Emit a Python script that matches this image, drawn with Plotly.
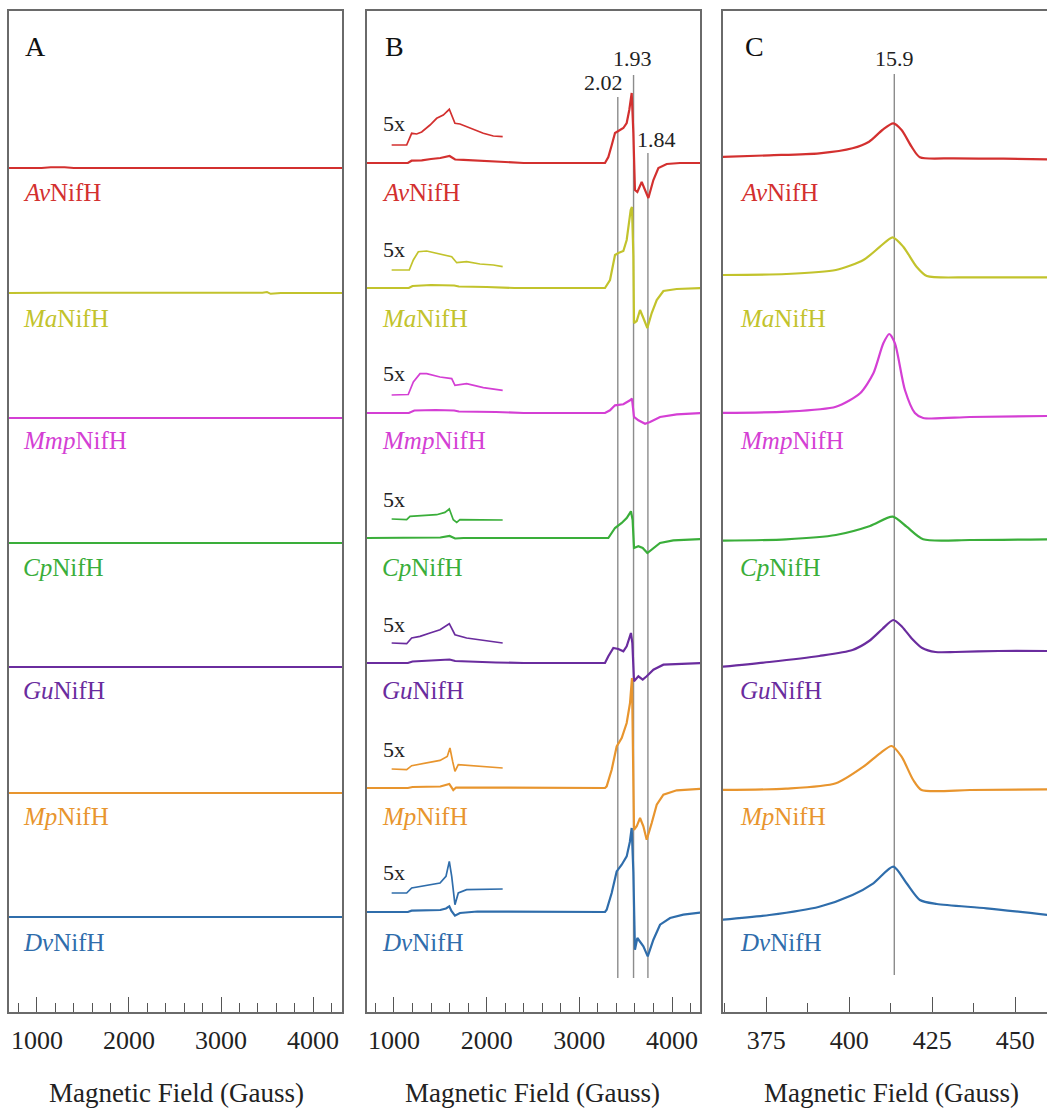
import plotly.graph_objects as go

# ---------------- data ----------------
NAMES = ["Av", "Ma", "Mmp", "Cp", "Gu", "Mp", "Dv"]
COLORS = ["#d3302f", "#c2c32c", "#d43fd4", "#3aae3a", "#6a2c9e", "#e8952e", "#2f6dab"]

# Panel A (flat spectra), field in Gauss, signal in arbitrary units
A_AV_X = [690, 1050, 1150, 1300, 1400, 2500, 4330]
A_AV_Y = [0, 0, 0.8, 0.8, 0, 0, 0]
A_MA_X = [690, 1200, 3450, 3500, 3540, 3650, 4330]
A_MA_Y = [0, 0.3, 0.3, 1.0, -0.8, 0, 0]
A_MMP_X = [690, 1500, 2500, 4330]
A_MMP_Y = [0, 0.3, 0, 0]
A_CP_X = [690, 1500, 2500, 4330]
A_CP_Y = [0, 0.3, 0, 0]
A_GU_X = [690, 1500, 2500, 4330]
A_GU_Y = [0, 0.3, 0, 0]
A_MP_X = [690, 1500, 2500, 4330]
A_MP_Y = [0, 0.3, 0, 0]
A_DV_X = [690, 1500, 2500, 4330]
A_DV_Y = [0, 0.3, 0, 0]

# Panel B main spectra
B_AV_X = [700, 1150, 1190, 1300, 1400, 1500, 1600, 1660, 1750, 1900, 2100, 2400, 3277, 3313, 3350, 3385, 3421, 3475, 3511, 3539, 3565, 3583, 3600, 3626, 3673, 3709, 3745, 3799, 3853, 3943, 4086, 4320]
B_AV_Y = [0, 0, 2.3, 2.6, 4, 5, 7, 3.5, 3.2, 2.5, 1.5, 0, 0, 6, 18, 30, 32, 35, 40, 53, 70, 30, -27, -29, -19, -27, -35, -17, -5, -1, 0, 0]
B_MA_X = [700, 1160, 1200, 1400, 1650, 1700, 2000, 2300, 3277, 3331, 3385, 3421, 3475, 3511, 3554, 3568, 3583, 3590, 3619, 3655, 3691, 3734, 3781, 3835, 3907, 4051, 4320]
B_MA_Y = [0, 0, 2, 3, 2.5, 1.5, 1, 0, 0, 8, 33, 35, 37, 48, 78, 81, 32, -35, -33, -22, -30, -40, -25, -12, -3, -1, 0]
B_MMP_X = [700, 1160, 1220, 1450, 1650, 1700, 2100, 2400, 3277, 3331, 3385, 3475, 3547, 3568, 3590, 3637, 3709, 3763, 3871, 4051, 4320]
B_MMP_Y = [0, 0, 2.5, 3, 2.5, 1.5, 1, 0, 0, 2.7, 7.7, 8.7, 12.7, 14.3, -4, -7.3, -10.7, -9, -4, -1.3, 0]
B_CP_X = [700, 1500, 1600, 1660, 1750, 3313, 3385, 3457, 3511, 3557, 3575, 3590, 3637, 3684, 3734, 3799, 3871, 4014, 4320]
B_CP_Y = [0, 0.5, 2, -0.5, 0, 0, 10, 15, 20, 26.7, 18, -10, -8.3, -10, -15, -10, -5, -2.3, -1]
B_GU_X = [700, 1150, 1200, 1400, 1600, 1660, 1800, 2100, 2400, 3277, 3313, 3367, 3421, 3475, 3511, 3557, 3572, 3590, 3637, 3684, 3727, 3799, 3907, 4320]
B_GU_Y = [0, 0, 1.5, 2.2, 3.5, 2, 1.3, 0.5, 0, 0, 6.7, 15, 14, 11.7, 16.7, 30, 20, -18.3, -13.3, -16.7, -13.3, -6.7, -1.7, 0]
B_MP_X = [700, 1150, 1200, 1500, 1597, 1640, 1670, 1720, 2100, 3277, 3295, 3349, 3403, 3457, 3511, 3547, 3568, 3580, 3590, 3619, 3655, 3691, 3727, 3781, 3835, 3907, 4051, 4320]
B_MP_Y = [0, 0, 1, 1.5, 4, -2, 0.5, 0.5, 0, 0, 1.6, 18.3, 41.6, 50, 65, 85, 110, 40, -41.7, -38.3, -30, -38.3, -51.7, -35, -16.7, -6.7, -2.3, -0.7]
B_DV_X = [700, 1150, 1190, 1500, 1561, 1597, 1620, 1658, 1712, 1900, 3277, 3295, 3349, 3403, 3457, 3511, 3545, 3565, 3583, 3600, 3626, 3655, 3691, 3738, 3799, 3871, 3979, 4122, 4320]
B_DV_Y = [0, 0, 1.3, 2, 3.5, 5.6, 1, -3.7, -1, 0.5, 0, 2.3, 19, 40.6, 47.3, 55.6, 70, 84, 40, -37.7, -26, -29.4, -34.4, -44.4, -27.7, -12.7, -6, -2.7, -0.3]

# Panel B "5x" insets (low-field region magnified five times)
I_AV_X = [975, 1137, 1191, 1245, 1299, 1389, 1461, 1532, 1597, 1658, 1712, 1820, 1964, 2072, 2173]
I_AV_Y = [0, 0, 11.7, 11, 13, 20, 26.7, 30, 35.7, 21.7, 21, 16.7, 11.7, 9, 8.3]
I_MA_X = [975, 1165, 1209, 1263, 1353, 1461, 1569, 1623, 1677, 1784, 1928, 2072, 2173]
I_MA_Y = [0, 0, 10, 18.3, 19, 16.7, 15, 13.3, 7.3, 8.3, 6, 5, 3.3]
I_MMP_X = [975, 1154, 1209, 1281, 1353, 1497, 1623, 1658, 1784, 1964, 2173]
I_MMP_Y = [0, 0.5, 13, 21.4, 21.4, 18, 16.4, 9.7, 11.4, 7.4, 4.7]
I_CP_X = [975, 1137, 1173, 1353, 1461, 1550, 1597, 1640, 1677, 1712, 1928, 2173]
I_CP_Y = [1, 0.3, 3.6, 4.3, 5.3, 7.6, 11, 0.3, -2.4, 0.3, 0, 0]
I_GU_X = [975, 1137, 1191, 1281, 1389, 1497, 1597, 1658, 1784, 1964, 2173]
I_GU_Y = [2, 1.3, 7, 8.6, 12, 15.3, 21.3, 10.3, 7, 4.6, 2]
I_MP_X = [975, 1137, 1191, 1353, 1497, 1575, 1604, 1633, 1658, 1694, 1820, 2000, 2173]
I_MP_Y = [1, 0.3, 4.3, 7, 9.6, 13.6, 22, 8.6, -1.4, 5.3, 4.3, 3, 2]
I_DV_X = [975, 1137, 1191, 1353, 1497, 1561, 1597, 1623, 1658, 1694, 1784, 2173]
I_DV_Y = [1, 1, 6, 8.3, 11, 17.6, 32.6, 17.6, -10.7, 1, 4.3, 5]

# Panel C
C_AV_X = [361, 376, 391, 401, 406, 410, 413.3, 415.8, 418.8, 421.3, 431.4, 446.5, 460]
C_AV_Y = [0, 1.7, 3.7, 8.7, 15.3, 27, 33.7, 27, 10.3, -0.3, -1.3, -1.7, -2.3]
C_MA_X = [361, 381, 396, 404.3, 409.3, 413.1, 416.3, 420.3, 423.4, 436.4, 460]
C_MA_Y = [0, 1, 5, 15, 28.3, 37.7, 28.3, 8.3, -1, -2.3, -2.3]
C_MMP_X = [361, 381, 396, 403.3, 407.3, 410.3, 412.1, 413.8, 416.8, 419.8, 422.3, 436.4, 460]
C_MMP_Y = [0, 1.3, 6.3, 19.7, 39.7, 69.7, 79, 69.7, 23, 0, -5, -4, -3]
C_CP_X = [361, 381, 396, 406.3, 413.1, 417.3, 422.3, 436.4, 460]
C_CP_Y = [0.3, 1.7, 6, 15, 24.3, 14.3, 1.7, 1, 1.7]
C_GU_X = [361, 376, 391, 401, 406, 410, 413.3, 416, 419, 422, 426, 432, 445, 460]
C_GU_Y = [0, 5, 11, 17, 26, 38, 47, 40, 28, 19, 15, 15, 16, 16]
C_MP_X = [361, 381, 396, 404.3, 409.3, 412.8, 415.8, 419.3, 421.8, 436.4, 460]
C_MP_Y = [0, 1.3, 6.7, 23.3, 36.7, 44, 33.3, 10, 0, 0, 0.7]
C_DV_X = [361, 376, 391, 401, 407.3, 413.3, 417.3, 421.3, 426.4, 441.4, 460]
C_DV_Y = [0, 5, 13.3, 25, 36.7, 53.3, 36.7, 20, 16, 11.7, 5]

G_FIELDS = [3415, 3585, 3740]
G_LABELS = ["2.02", "1.93", "1.84"]
C_FIELD = 413.6
C_LABEL = "15.9"

A_DATA = [(A_AV_X, A_AV_Y), (A_MA_X, A_MA_Y), (A_MMP_X, A_MMP_Y), (A_CP_X, A_CP_Y),
          (A_GU_X, A_GU_Y), (A_MP_X, A_MP_Y), (A_DV_X, A_DV_Y)]
B_DATA = [(B_AV_X, B_AV_Y), (B_MA_X, B_MA_Y), (B_MMP_X, B_MMP_Y), (B_CP_X, B_CP_Y),
          (B_GU_X, B_GU_Y), (B_MP_X, B_MP_Y), (B_DV_X, B_DV_Y)]
I_DATA = [(I_AV_X, I_AV_Y), (I_MA_X, I_MA_Y), (I_MMP_X, I_MMP_Y), (I_CP_X, I_CP_Y),
          (I_GU_X, I_GU_Y), (I_MP_X, I_MP_Y), (I_DV_X, I_DV_Y)]
C_DATA = [(C_AV_X, C_AV_Y), (C_MA_X, C_MA_Y), (C_MMP_X, C_MMP_Y), (C_CP_X, C_CP_Y),
          (C_GU_X, C_GU_Y), (C_MP_X, C_MP_Y), (C_DV_X, C_DV_Y)]

# ---------------- layout constants ----------------
W, H = 1047, 1109
TOP_PX, BOT_PX = 11, 1012
OFF_A = [844, 719, 594, 469, 345, 219, 95]
OFF_B = [849, 724, 599, 474, 349, 224, 100]
OFF_C = [855, 737, 599, 471, 345, 222, 92]
INSET_SHIFT = 18
LABEL_Y_PX = [192, 318, 440, 567, 690, 816, 942]
SERIF = "Liberation Serif"


def px(x):
    return x / W


def py(y):
    return 1 - y / H


fig = go.Figure()

for i in range(7):
    c = COLORS[i]
    xa, ya = A_DATA[i]
    fig.add_trace(go.Scatter(x=xa, y=[OFF_A[i] + v for v in ya], mode="lines",
                             line=dict(color=c, width=2), xaxis="x", yaxis="y", showlegend=False))
    xb, yb = B_DATA[i]
    fig.add_trace(go.Scatter(x=xb, y=[OFF_B[i] + v for v in yb], mode="lines",
                             line=dict(color=c, width=2.2), xaxis="x2", yaxis="y2", showlegend=False))
    xi, yi = I_DATA[i]
    fig.add_trace(go.Scatter(x=xi, y=[OFF_B[i] + INSET_SHIFT + v for v in yi], mode="lines",
                             line=dict(color=c, width=1.7), xaxis="x2", yaxis="y2", showlegend=False))
    xc, yc = C_DATA[i]
    fig.add_trace(go.Scatter(x=xc, y=[OFF_C[i] + v for v in yc], mode="lines",
                             line=dict(color=c, width=2.2, shape="spline", smoothing=0.7),
                             xaxis="x3", yaxis="y3", showlegend=False))

ydom = [py(BOT_PX), py(TOP_PX)]
axis_common = dict(showgrid=False, zeroline=False, showline=True, linecolor="#6a6a6a", linewidth=1.5,
                   ticks="inside", ticklen=15, tickwidth=1.3, tickcolor="#555",
                   tickfont=dict(family=SERIF, size=26, color="#222"), ticklabelstandoff=4)
yaxis_common = dict(showgrid=False, zeroline=False, showticklabels=False, ticks="",
                    showline=True, linecolor="#6a6a6a", linewidth=1.5, range=[0, BOT_PX - TOP_PX],
                    domain=ydom, fixedrange=True)

fig.update_layout(
    width=W, height=H, autosize=False,
    font=dict(family=SERIF),
    margin=dict(l=0, r=0, t=0, b=0),
    paper_bgcolor="white", plot_bgcolor="white",
    xaxis=dict(domain=[px(9), px(342)], range=[696, 4315], tick0=0, dtick=1000, mirror=True,
               minor=dict(ticks="inside", ticklen=9, tickwidth=1.2, tickcolor="#555", tick0=0, dtick=200),
               anchor="y", **axis_common),
    xaxis2=dict(domain=[px(367), px(700)], range=[709, 4302], tick0=0, dtick=1000, mirror=True,
                minor=dict(ticks="inside", ticklen=9, tickwidth=1.2, tickcolor="#555", tick0=0, dtick=200),
                anchor="y2", **axis_common),
    xaxis3=dict(domain=[px(723), 1], range=[362, 459.6], tick0=0, dtick=25, mirror=True,
                minor=dict(ticks="inside", ticklen=9, tickwidth=1.2, tickcolor="#555", tick0=0, dtick=12.5),
                anchor="y3", **axis_common),
    yaxis=dict(anchor="x", mirror=True, **yaxis_common),
    yaxis2=dict(anchor="x2", mirror=True, **yaxis_common),
    yaxis3=dict(anchor="x3", mirror=False, **yaxis_common),
)

# reference lines
shapes = []
g_tops_px = [97, 75, 153]
for gx, tp in zip(G_FIELDS, g_tops_px):
    shapes.append(dict(type="line", xref="x2", yref="y2", x0=gx, x1=gx,
                       y0=BOT_PX - 978, y1=BOT_PX - tp, line=dict(color="#8c8c8c", width=1.4), layer="below"))
shapes.append(dict(type="line", xref="x3", yref="y3", x0=C_FIELD, x1=C_FIELD,
                   y0=BOT_PX - 975, y1=BOT_PX - 74, line=dict(color="#8c8c8c", width=1.4), layer="below"))
fig.update_layout(shapes=shapes)

ann = []
# panel letters
for letter, xl in zip(["A", "B", "C"], [23, 383, 743]):
    ann.append(dict(text=letter, x=px(xl), y=py(47), xref="paper", yref="paper", xanchor="left",
                    yanchor="middle", showarrow=False, font=dict(family=SERIF, size=28, color="#111")))
# series labels
for i in range(7):
    txt = "<i>%s</i>NifH" % NAMES[i]
    for xl in [21, 380, 738]:
        ann.append(dict(text=txt, x=px(xl), y=py(LABEL_Y_PX[i]), xref="paper", yref="paper",
                        xanchor="left", yanchor="middle", showarrow=False,
                        font=dict(family=SERIF, size=25, color=COLORS[i])))
    # 5x labels
    ann.append(dict(text="5x", x=px(381), y=py((BOT_PX - OFF_B[i]) - 39), xref="paper", yref="paper",
                    xanchor="left", yanchor="middle", showarrow=False,
                    font=dict(family=SERIF, size=22, color="#222")))
# g-value labels
for lab, xc, yc in zip(G_LABELS, [603.7, 632, 656.7], [83, 58, 140]):
    ann.append(dict(text=lab, x=px(xc), y=py(yc), xref="paper", yref="paper", xanchor="center",
                    yanchor="middle", showarrow=False, font=dict(family=SERIF, size=22, color="#222")))
ann.append(dict(text=C_LABEL, x=px(894), y=py(58), xref="paper", yref="paper", xanchor="center",
                yanchor="middle", showarrow=False, font=dict(family=SERIF, size=22, color="#222")))
# axis titles
for xc in [176, 533, 891]:
    ann.append(dict(text="Magnetic Field (Gauss)", x=px(xc), y=py(1093), xref="paper", yref="paper",
                    xanchor="center", yanchor="middle", showarrow=False,
                    font=dict(family=SERIF, size=27, color="#222")))
fig.update_layout(annotations=ann)

fig.write_html("out.html")
